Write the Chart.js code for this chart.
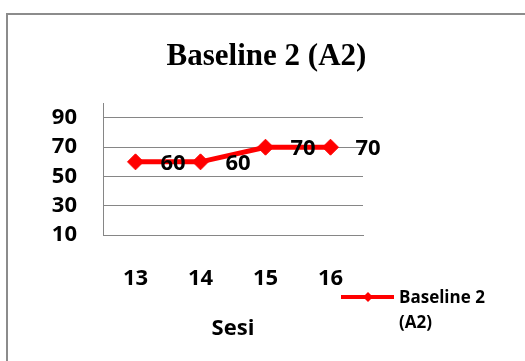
<!DOCTYPE html>
<html>
<head>
<meta charset="utf-8">
<script src="https://cdn.jsdelivr.net/npm/chart.js@4/dist/chart.umd.min.js"></script>
<style>
  body { margin: 0; background: #fff; }
  #wrap { position: relative; width: 525px; height: 361px; overflow: hidden; }
  #frame { position: absolute; left: 6px; top: 13px; width: 600px; height: 400px;
           border-left: 2px solid #8c8c8c; border-top: 2px solid #8c8c8c; }
  #chart { position: absolute; left: 0; top: 0; }
</style>
</head>
<body>
<div id="wrap">
  <div id="frame"></div>
  <canvas id="chart" width="525" height="361"></canvas>
</div>
<script>
// --- DATA ---
const sessions = ['13', '14', '15', '16'];
const scores = [60, 60, 70, 70];
const yTicks = [10, 30, 50, 70, 90];
const seriesName = 'Baseline 2 (A2)';
const chartTitle = 'Baseline 2 (A2)';
const xTitle = 'Sesi';

const labelFont = '"Open Sans", sans-serif';

// value labels to the right of each marker
const valueLabels = {
    id: 'valueLabels',
    afterDatasetsDraw(chart) {
        const ctx = chart.ctx;
        const meta = chart.getDatasetMeta(0);
        ctx.save();
        ctx.font = 'bold 22px ' + labelFont;
        ctx.fillStyle = '#000';
        ctx.textAlign = 'left';
        ctx.textBaseline = 'middle';
        meta.data.forEach((pt, i) => {
            ctx.fillText(String(chart.data.datasets[0].data[i]), pt.x + 25, pt.y + 2);
        });
        ctx.restore();
    }
};

// legend below the plot, on the right, label wrapped on two lines
const wrapLegend = {
    id: 'wrapLegend',
    afterDraw(chart) {
        const ctx = chart.ctx;
        const ds = chart.data.datasets[0];
        const area = chart.chartArea;
        const x0 = area.right - 22, y0 = 297;
        const cut = ds.label.lastIndexOf(' ');
        const lines = [ds.label.slice(0, cut), ds.label.slice(cut + 1)];
        ctx.save();
        ctx.strokeStyle = ds.borderColor;
        ctx.lineWidth = 4;
        ctx.beginPath();
        ctx.moveTo(x0, y0);
        ctx.lineTo(x0 + 53, y0);
        ctx.stroke();
        ctx.fillStyle = ds.borderColor;
        const cx = x0 + 27, r = 5;
        ctx.beginPath();
        ctx.moveTo(cx - r, y0); ctx.lineTo(cx, y0 - r); ctx.lineTo(cx + r, y0); ctx.lineTo(cx, y0 + r);
        ctx.closePath();
        ctx.fill();
        ctx.font = 'bold 17px ' + labelFont;
        ctx.fillStyle = '#000';
        ctx.textAlign = 'left';
        ctx.textBaseline = 'middle';
        lines.forEach((t, i) => ctx.fillText(t, x0 + 58, y0 + 1 + i * 25));
        ctx.restore();
    }
};

new Chart(document.getElementById('chart'), {
    type: 'line',
    data: {
        labels: sessions,
        datasets: [{
            label: seriesName,
            data: scores,
            borderColor: '#ff0000',
            backgroundColor: '#ff0000',
            borderWidth: 5,
            pointStyle: 'rectRot',
            pointRadius: 8,
            pointBorderWidth: 1,
            tension: 0
        }]
    },
    options: {
        responsive: false,
        animation: false,
        layout: { padding: { left: 8, right: 0, top: 0, bottom: 19 } },
        plugins: {
            legend: { display: false },
            tooltip: { enabled: false },
            title: {
                display: true,
                text: chartTitle,
                color: '#000',
                font: { family: '"Liberation Serif", "Times New Roman", serif', size: 31, weight: 'bold' },
                padding: { top: 38, bottom: 28 }
            }
        },
        scales: {
            x: {
                offset: true,
                grid: { display: false, drawTicks: false },
                border: { display: true, color: '#868686', width: 1 },
                ticks: { color: '#000', padding: 30, font: { family: labelFont, size: 22, weight: 'bold' } },
                title: {
                    display: true, text: xTitle, color: '#000',
                    font: { family: labelFont, size: 22, weight: 'bold' },
                    padding: { top: -6, bottom: 0 }
                }
            },
            y: {
                min: 10,
                max: 100,
                afterBuildTicks: axis => { axis.ticks = yTicks.map(v => ({ value: v })); },
                afterFit: axis => { axis.width = 95; },
                grid: { color: '#868686', drawTicks: false },
                border: { display: true, color: '#868686', width: 1 },
                ticks: { color: '#000', padding: 26, autoSkip: false, font: { family: labelFont, size: 22, weight: 'bold' } }
            },
            y2: {
                type: 'linear',
                position: 'right',
                grid: { display: false },
                border: { display: false },
                ticks: { display: false },
                afterFit: axis => { axis.width = 162; }
            }
        }
    },
    plugins: [valueLabels, wrapLegend]
});
</script>
</body>
</html>
